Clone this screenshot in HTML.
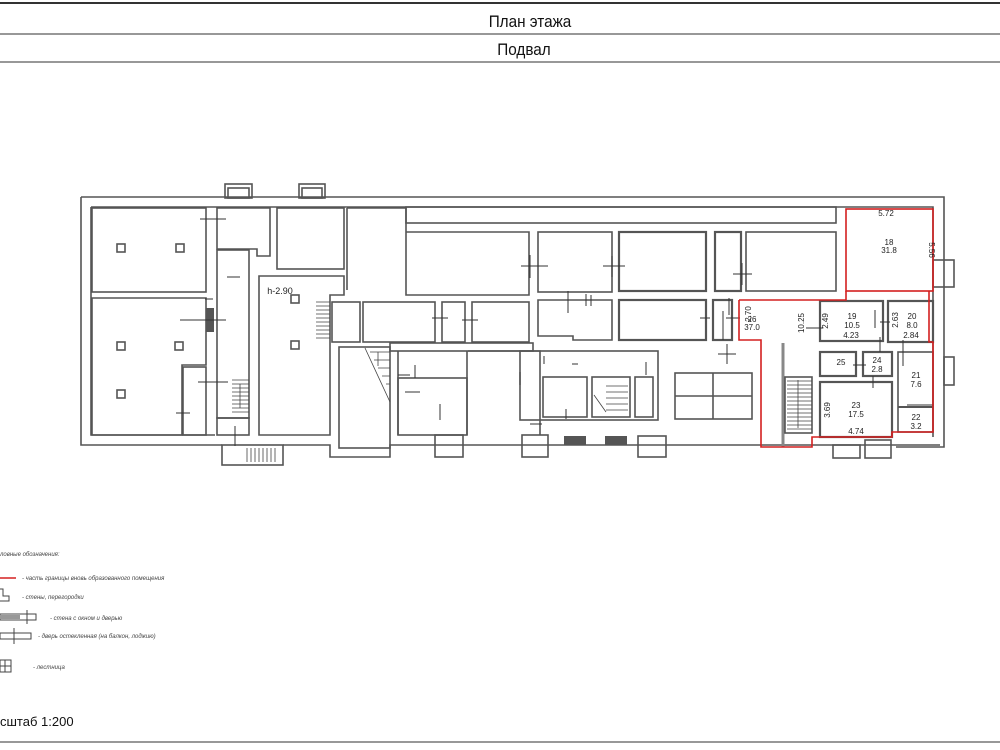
<!DOCTYPE html>
<html><head><meta charset="utf-8"><style>
body{margin:0;background:#fff;}
svg{display:block;font-family:"Liberation Sans",sans-serif;}
</style></head><body>
<svg width="1000" height="750" viewBox="0 0 1000 750" xmlns="http://www.w3.org/2000/svg">
<rect width="1000" height="750" fill="#fff"/>
<line x1="0" y1="3" x2="1000" y2="3" stroke="#333" stroke-width="2"/>
<line x1="0" y1="34" x2="1000" y2="34" stroke="#777" stroke-width="1.5"/>
<line x1="0" y1="62" x2="1000" y2="62" stroke="#777" stroke-width="1.5"/>
<text x="530" y="27" font-size="17" text-anchor="middle" fill="#111" transform="translate(530 0) scale(0.9 1) translate(-530 0)">План этажа</text>
<text x="524" y="55" font-size="17" text-anchor="middle" fill="#111" transform="translate(524 0) scale(0.9 1) translate(-524 0)">Подвал</text>

<g fill="none" stroke="#555" stroke-width="1.6">
<path d="M81,197 H944 V447 H896 M81,197 V445 H222 M283,445 H330 V457 H390 V445 H940"/>
<path d="M91,207 H933 V437 M91,207 V435 H215"/>
<rect x="225" y="184" width="27" height="14"/><rect x="228" y="188" width="21" height="10"/>
<rect x="299" y="184" width="26" height="14"/><rect x="302" y="188" width="20" height="10"/>
<rect x="222" y="445" width="61" height="20"/>
<rect x="435" y="435" width="28" height="22"/><rect x="522" y="435" width="26" height="22"/>
<rect x="638" y="436" width="28" height="21"/>
<rect x="833" y="445" width="27" height="13"/><rect x="865" y="440" width="26" height="18"/>
<rect x="933" y="260" width="21" height="27"/>
<rect x="944" y="357" width="10" height="28"/>
<rect x="92" y="208" width="114" height="84"/>
<path d="M92,298 H206 V365 H182 V435 H92 Z"/>
<rect x="183" y="367" width="23" height="68"/>
<path d="M217,208 H270 V256 H257 V249 H217 Z"/>
<rect x="217" y="250" width="32" height="168"/><rect x="217" y="418" width="32" height="17"/>
<rect x="277" y="208" width="67" height="61"/>
<path d="M259,276 H344 V295 H330 V435 H259 Z"/>
<path d="M347,208 H406 V219 M347,208 V290"/>
<path d="M406,219 V232 M406,232 H529 V295 H406 Z"/>
<rect x="406" y="207" width="430" height="16"/>
<rect x="332" y="302" width="28" height="40"/>
<rect x="363" y="302" width="72" height="40"/>
<rect x="442" y="302" width="23" height="40"/>
<rect x="472" y="302" width="57" height="40"/>
<rect x="390" y="343" width="143" height="8"/>
<rect x="339" y="347" width="51" height="101"/>
<rect x="398" y="378" width="69" height="57"/>
<path d="M398,351 V435 M467,351 V435"/>
<path d="M468,351 H540 V435"/>
<rect x="520" y="351" width="138" height="69"/>
<rect x="543" y="377" width="44" height="40"/>
<rect x="592" y="377" width="38" height="40"/>
<rect x="635" y="377" width="18" height="40"/>
<rect x="675" y="373" width="77" height="46"/>
<path d="M675,396 H752 M713,373 V419"/>
<rect x="538" y="232" width="74" height="60"/>
<rect x="619" y="232" width="87" height="59" stroke-width="2.2"/>
<rect x="715" y="232" width="26" height="59" stroke-width="2.2"/>
<rect x="746" y="232" width="90" height="59"/>
<path d="M538,300 H612 V340 H573 V336 H538 Z"/>
<rect x="619" y="300" width="87" height="40" stroke-width="2.2"/>
<rect x="713" y="300" width="19" height="40" stroke-width="2.2"/>
<rect x="820" y="301" width="63" height="40" stroke-width="2.2"/>
<rect x="888" y="301" width="45" height="41" stroke-width="2.2"/>
<rect x="820" y="352" width="36" height="24" stroke-width="2.2"/>
<rect x="863" y="352" width="29" height="24" stroke-width="2.2"/>
<rect x="820" y="382" width="72" height="55" stroke-width="2.2"/>
<rect x="898" y="352" width="35" height="80"/>
<line x1="898" y1="407" x2="933" y2="407" stroke-width="2"/>
<line x1="783" y1="343" x2="783" y2="447" stroke-width="3" stroke="#888"/>
<rect x="785" y="377" width="27" height="56"/>
<rect x="117" y="244" width="8" height="8"/><rect x="176" y="244" width="8" height="8"/>
<rect x="117" y="342" width="8" height="8"/><rect x="175" y="342" width="8" height="8"/>
<rect x="117" y="390" width="8" height="8"/>
<rect x="291" y="295" width="8" height="8"/><rect x="291" y="341" width="8" height="8"/>
</g>
<g stroke="#444" stroke-width="0.8">
<path d="M316,302 H330 M316,306 H330 M316,310 H330 M316,314 H330 M316,318 H330 M316,322 H330 M316,326 H330 M316,330 H330 M316,334 H330 M316,338 H330"/>
<path d="M232,380 H249 M232,384 H249 M232,388 H249 M232,392 H249 M232,396 H249 M232,400 H249 M232,404 H249 M232,408 H249 M232,412 H249"/>
<path d="M247,448 V462 M251,448 V462 M255,448 V462 M259,448 V462 M263,448 V462 M267,448 V462 M271,448 V462 M275,448 V462"/>
<path d="M787,381 H812 M787,385 H812 M787,389 H812 M787,393 H812 M787,397 H812 M787,401 H812 M787,405 H812 M787,409 H812 M787,413 H812 M787,417 H812 M787,421 H812 M787,425 H812 M787,429 H812"/>
<path d="M365,348 L390,402 M370,352 H390 M374,360 H390 M378,368 H390 M382,376 H390 M386,384 H390"/>
<path d="M594,395 L606,412 M606,386 H628 M606,392 H628 M606,398 H628 M606,404 H628 M606,410 H628"/>
<path d="M240,384 V408 M798,380 V428 M378,352 V366"/>
</g>
<rect x="206" y="308" width="8" height="24" fill="#555"/>
<rect x="564" y="436" width="22" height="9" fill="#555"/>
<rect x="605" y="436" width="22" height="9" fill="#555"/>
<g stroke="#333" stroke-width="1">
<path d="M200,219 H226 M180,320 H226 M198,382 H228 M176,413 H190 M235,426 V446 M227,277 H240 M205,299 H213"/>
<path d="M521,266 H548 M530,255 V278 M603,266 H625 M612,256 V277 M646,362 V375 M591,295 V306 M568,291 V313 M733,274 H752 M742,263 V285 M700,318 H710 M726,318 H740 M729,298 V315 M723,311 V340"/>
<path d="M806,328 H823 M875,310 V328 M880,322 H890 M880,337 V352 M903,340 V366 M853,365 H866 M873,376 V388 M907,405 H933 M718,354 H736 M727,344 V364 M586,294 V306"/>
<path d="M432,318 H448 M462,320 H478 M415,378 V365 M398,375 H410 M405,392 H420 M544,356 V364 M572,364 H578 M440,404 V420 M520,372 V385 M566,409 V419 M530,424 H542"/>
</g>
<g fill="none" stroke="#d42020" stroke-width="1.6">
<rect x="846" y="209" width="87" height="82"/>
<path d="M739,300 H846 V291 M739,300 V340 H761 V447 H812 V437 H892 V432 H933 V342 H929 V291"/>
</g>
<g font-size="8" fill="#222" text-anchor="middle">
<text x="280" y="294" font-size="9">h-2.90</text>
<text x="886" y="216">5.72</text>
<text x="889" y="245">18</text><text x="889" y="253">31.8</text>
<text x="929" y="250" transform="rotate(90 929 250)">5.56</text>
<text x="752" y="322">26</text><text x="752" y="330">37.0</text>
<text x="751" y="314" transform="rotate(-90 751 314)">2.70</text>
<text x="804" y="323" transform="rotate(-90 804 323)">10.25</text>
<text x="828" y="321" transform="rotate(-90 828 321)">2.49</text>
<text x="852" y="319">19</text><text x="852" y="328">10.5</text><text x="851" y="338">4.23</text>
<text x="898" y="320" transform="rotate(-90 898 320)">2.63</text>
<text x="912" y="319">20</text><text x="912" y="328">8.0</text><text x="911" y="338">2.84</text>
<text x="841" y="365">25</text>
<text x="877" y="363">24</text><text x="877" y="372">2.8</text>
<text x="916" y="378">21</text><text x="916" y="387">7.6</text>
<text x="856" y="408">23</text><text x="856" y="417">17.5</text><text x="856" y="434">4.74</text>
<text x="830" y="410" transform="rotate(-90 830 410)">3.69</text>
<text x="916" y="420">22</text><text x="916" y="429">3.2</text>
</g>
<g font-size="6" fill="#444" font-style="italic">
<text x="0" y="556">ловные обозначения:</text>
<line x1="0" y1="578" x2="16" y2="578" stroke="#d42020" stroke-width="1.5"/>
<text x="22" y="580">- часть границы вновь образованного помещения</text>
<path d="M0,589 H3 V596 H9 V601 H0" fill="none" stroke="#444"/>
<text x="22" y="599">- стены, перегородки</text>
<rect x="0" y="614" width="36" height="6" fill="none" stroke="#444"/>
<rect x="0" y="615" width="20" height="4" fill="#999"/>
<line x1="27" y1="610" x2="27" y2="624" stroke="#444"/>
<text x="50" y="620">- стена с окном и дверью</text>
<rect x="0" y="633" width="31" height="6" fill="none" stroke="#444"/>
<line x1="14" y1="628" x2="14" y2="644" stroke="#444"/>
<text x="38" y="638">- дверь остекленная (на балкон, лоджию)</text>
<rect x="0" y="660" width="11" height="12" fill="none" stroke="#444"/>
<path d="M0,666 H11 M5,660 V672" stroke="#444"/>
<text x="33" y="669">- лестница</text>
</g>
<text x="0" y="726" font-size="13" fill="#111">сштаб 1:200</text>
<line x1="0" y1="742" x2="1000" y2="742" stroke="#777" stroke-width="1.5"/>
</svg>
</body></html>
